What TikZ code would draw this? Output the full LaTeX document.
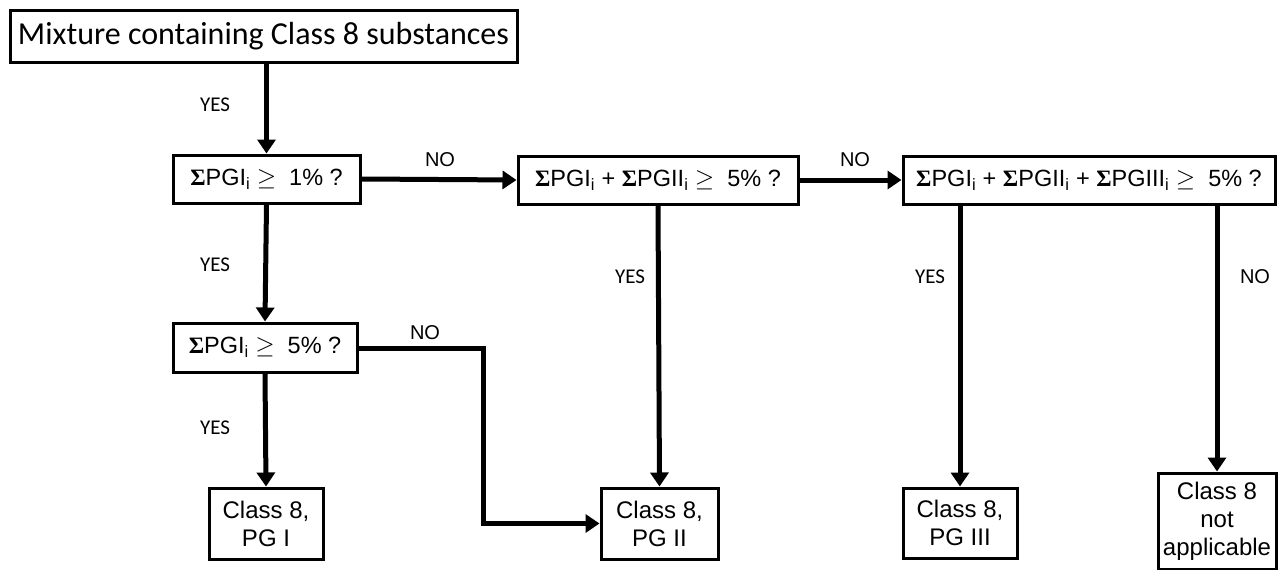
\documentclass[tikz,border=0pt]{standalone}
\usepackage{fontspec}
\setmainfont{Liberation Sans}
\newfontfamily\calib{Carlito}
\newfontfamily\serf{Liberation Serif}
\usetikzlibrary{arrows.meta}
\newcommand{\Sg}{{\serf\bfseries Σ}}
\newcommand{\ix}{\textsubscript{i}}
\tikzset{
  box/.style={draw, line width=3pt, inner sep=0pt, align=center, font=\fontsize{24}{28}\selectfont},
  cond/.style={box, font=\fontsize{23.5}{28}\selectfont},
  conn/.style={line width=5pt, -{Triangle[length=14pt,width=18pt]}},
  yes/.style={font=\calib\fontsize{21}{24}\selectfont},
  no/.style={font=\fontsize{20}{24}\selectfont}
}
\begin{document}
\begin{tikzpicture}[x=1pt,y=-1pt]
\useasboundingbox (0,0) rectangle (1280,570);
\node[box, minimum width=507pt, minimum height=52pt, font=\calib\fontsize{32}{36}\selectfont] (top) at (263.5,36) {Mixture containing Class 8 substances};
\node[cond, minimum width=187pt, minimum height=48pt] (b1) at (266.5,179) {\Sg PGI\ix{} $\geq$\ \ 1\% ?};
\node[cond, minimum width=280pt, minimum height=48pt] (b2) at (658,180) {\Sg PGI\ix{} + \Sg PGII\ix{} $\geq$\ \ 5\% ?};
\node[cond, minimum width=372pt, minimum height=48pt] (b3) at (1089,180) {\Sg PGI\ix{} + \Sg PGII\ix{} + \Sg PGIII\ix{} $\geq$\ \ 5\% ?};
\node[cond, minimum width=184pt, minimum height=49pt] (b4) at (265,347.5) {\Sg PGI\ix{} $\geq$\ \ 5\% ?};
\node[box, minimum width=114pt, minimum height=71pt] (pg1) at (266,523.5) {Class 8,\\PG I};
\node[box, minimum width=117pt, minimum height=71pt] (pg2) at (659.5,523.5) {Class 8,\\PG II};
\node[box, minimum width=114pt, minimum height=70pt] (pg3) at (960,523) {Class 8,\\PG III};
\node[box, minimum width=118pt, minimum height=96pt] (na) at (1217,521) {Class 8\\not\\applicable};
\coordinate (k1) at (483,348);
\coordinate (k2) at (483,523.5);
\draw[conn] (top.south -| b1.north) -- (b1.north);
\draw[conn] (b1.east) -- (b2.west);
\draw[conn] (b2.east) -- (b3.west);
\draw[conn] (b1.south) -- (b4.north);
\draw[conn] (b4.south) -- (pg1.north);
\draw[conn] (b4.east |- k1) -- (k1) -- (k2) -- (pg2.west);
\draw[conn] (b2.south) -- (pg2.north);
\draw[conn] (pg3.north |- b3.south) -- (pg3.north);
\draw[conn] (na.north |- b3.south) -- (na.north);
\node[yes] (y1) at (215,105) {YES};
\node[yes] (y2) at (215,265) {YES};
\node[yes] (y3) at (215,428) {YES};
\node[yes] (y4) at (630,277) {YES};
\node[yes] (y5) at (930,277) {YES};
\node[no] (n1) at (440,160) {NO};
\node[no] (n2) at (855,160) {NO};
\node[no] (n3) at (425,333) {NO};
\node[no] (n4) at (1255,277) {NO};
\end{tikzpicture}
\end{document}
